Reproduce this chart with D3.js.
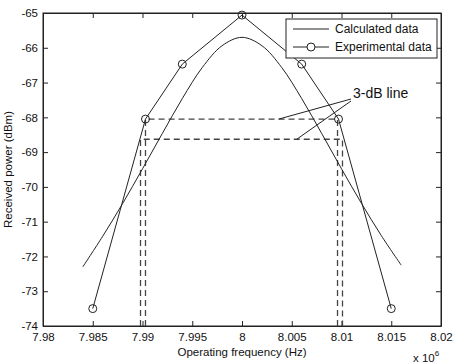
<!DOCTYPE html>
<html>
<head>
<meta charset="utf-8">
<script src="https://cdn.jsdelivr.net/npm/d3@7"></script>
<style>
  body { margin: 0; background: #fff; }
  text { font-family: Arial, "Liberation Sans", sans-serif; fill: #111; }
</style>
</head>
<body>
<div id="chart"></div>
<script>
// experimental data (frequency in MHz, i.e. x 10^6 Hz)
const expFreq = [7.985, 7.9903, 7.994, 8.0, 8.006, 8.0097, 8.015];
const expPower = [-73.5, -68.05, -66.47, -65.06, -66.47, -68.05, -73.5];

// calculated curve
const calcFreq = [7.984, 7.986, 7.988, 7.990, 7.992, 7.994, 7.996, 7.998, 8.000,
                  8.002, 8.004, 8.006, 8.008, 8.010, 8.012, 8.014, 8.016];
const calcPower = [-72.3, -71.42, -70.48, -69.48, -68.46, -67.46, -66.57, -65.94, -65.7,
                   -65.94, -66.57, -67.46, -68.46, -69.48, -70.47, -71.4, -72.25];

// 3-dB lines: [left, right, level]
const line3dbExp = [7.9903, 8.0096, -68.05];
const line3dbCalc = [7.9898, 8.0101, -68.63];

const xTicks = [7.98, 7.985, 7.99, 7.995, 8, 8.005, 8.01, 8.015, 8.02];
const yTicks = [-65, -66, -67, -68, -69, -70, -71, -72, -73, -74];

const width = 457, height = 364;
const margin = {left: 43, right: 16, top: 13, bottom: 38};

const svg = d3.select("#chart").append("svg")
  .attr("width", width)
  .attr("height", height);

const x = d3.scaleLinear().domain([7.98, 8.02]).range([margin.left, width - margin.right]);
const y = d3.scaleLinear().domain([-74, -65]).range([height - margin.bottom, margin.top]);

const ink = "#222";

// axes with inward ticks
svg.append("g")
  .attr("transform", `translate(0,${y(-74)})`)
  .call(d3.axisBottom(x).tickValues(xTicks).tickSizeInner(-5).tickSizeOuter(0)
    .tickPadding(7).tickFormat(d => d3.format("")(+d.toFixed(3))));
svg.append("g")
  .attr("transform", `translate(${x(7.98)},0)`)
  .call(d3.axisLeft(y).tickValues(yTicks).tickSizeInner(-5).tickSizeOuter(0)
    .tickPadding(5).tickFormat(d => d));
svg.append("g")
  .attr("transform", `translate(0,${y(-65)})`)
  .call(d3.axisTop(x).tickValues(xTicks).tickSizeInner(-5).tickSizeOuter(0).tickFormat(""));
svg.append("g")
  .attr("transform", `translate(${x(8.02)},0)`)
  .call(d3.axisRight(y).tickValues(yTicks).tickSizeInner(-5).tickSizeOuter(0).tickFormat(""));

svg.selectAll(".domain").attr("stroke", ink);
svg.selectAll(".tick line").attr("stroke", ink);
svg.selectAll(".tick text").style("font-size", "11.5px").attr("fill", "#111");

// box
svg.append("rect")
  .attr("x", x(7.98)).attr("y", y(-65))
  .attr("width", x(8.02) - x(7.98)).attr("height", y(-74) - y(-65))
  .attr("fill", "none").attr("stroke", ink).attr("stroke-width", 1);

// dashed 3-dB rectangles
function dashedBox(d) {
  const [l, r, lev] = d;
  const pts = [[l, -74], [l, lev], [r, lev], [r, -74]];
  svg.append("path")
    .attr("d", d3.line().x(p => x(p[0])).y(p => y(p[1]))(pts))
    .attr("fill", "none")
    .attr("stroke", "#444")
    .attr("stroke-width", 1.3)
    .attr("stroke-dasharray", "6,4");
}
dashedBox(line3dbExp);
dashedBox(line3dbCalc);

// calculated curve
const calc = calcFreq.map((f, i) => [f, calcPower[i]]);
svg.append("path")
  .attr("d", d3.line().x(d => x(d[0])).y(d => y(d[1])).curve(d3.curveCatmullRom)(calc))
  .attr("fill", "none").attr("stroke", ink).attr("stroke-width", 1);

// experimental
const expd = expFreq.map((f, i) => [f, expPower[i]]);
svg.append("path")
  .attr("d", d3.line().x(d => x(d[0])).y(d => y(d[1]))(expd))
  .attr("fill", "none").attr("stroke", ink).attr("stroke-width", 1);
svg.selectAll("circle.exp")
  .data(expd)
  .enter().append("circle")
  .attr("class", "exp")
  .attr("cx", d => x(d[0])).attr("cy", d => y(d[1]))
  .attr("r", 4)
  .attr("fill", "none").attr("stroke", ink).attr("stroke-width", 1);

// 3-dB annotation
const ax = 351, ay = 100;
svg.append("line")
  .attr("x1", ax).attr("y1", ay - 1)
  .attr("x2", x(8.0037)).attr("y2", y(line3dbExp[2]))
  .attr("stroke", ink);
svg.append("line")
  .attr("x1", ax).attr("y1", ay + 1)
  .attr("x2", x(8.0055)).attr("y2", y(line3dbCalc[2]))
  .attr("stroke", ink);
svg.append("text")
  .attr("x", 353).attr("y", 98)
  .style("font-size", "14px")
  .text("3-dB line");

// legend
const lg = svg.append("g").attr("transform", "translate(286,19)");
lg.append("rect")
  .attr("width", 151).attr("height", 39)
  .attr("fill", "#fff").attr("stroke", ink);
lg.append("line").attr("x1", 7).attr("x2", 43).attr("y1", 10).attr("y2", 10).attr("stroke", ink);
lg.append("line").attr("x1", 7).attr("x2", 43).attr("y1", 28).attr("y2", 28).attr("stroke", ink);
lg.append("circle").attr("cx", 25).attr("cy", 28).attr("r", 4)
  .attr("fill", "#fff").attr("stroke", ink);
lg.append("text").attr("x", 49).attr("y", 14).style("font-size", "12px").text("Calculated data");
lg.append("text").attr("x", 49).attr("y", 32).style("font-size", "12px").text("Experimental data");

// axis labels
svg.append("text")
  .attr("x", (x(7.98) + x(8.02)) / 2).attr("y", 356)
  .attr("text-anchor", "middle")
  .style("font-size", "11.5px")
  .text("Operating frequency (Hz)");
svg.append("text")
  .attr("transform", `translate(12,${(y(-65) + y(-74)) / 2}) rotate(-90)`)
  .attr("text-anchor", "middle")
  .style("font-size", "11.5px")
  .text("Received power (dBm)");
const ex = svg.append("text").attr("x", 413).attr("y", 362).style("font-size", "11.5px");
ex.append("tspan").text("x 10");
ex.append("tspan").attr("dy", -6).style("font-size", "8px").text("6");
</script>
</body>
</html>
